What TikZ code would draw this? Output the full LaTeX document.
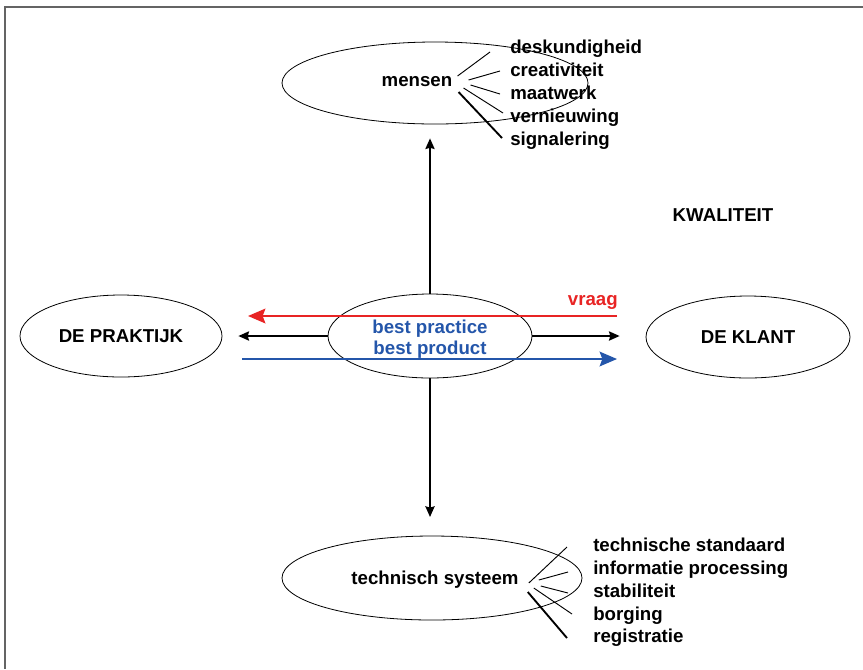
\documentclass[tikz,border=0pt]{standalone}
\usepackage{fontspec}
\setmainfont{Liberation Sans}
\usetikzlibrary{arrows.meta,shapes.geometric}
\definecolor{vraagred}{RGB}{232,36,36}
\definecolor{productblue}{RGB}{36,86,170}
\definecolor{framegray}{RGB}{100,100,100}

\begin{document}
\begin{tikzpicture}[x=0.75pt,y=-0.75pt,
    every node/.style={font=\bfseries\fontsize{14}{16}\selectfont},
    blob/.style={ellipse,draw,line width=0.6pt,inner sep=0pt},
    item/.style={anchor=west,inner sep=0pt,text height=10pt,text depth=2pt},
    fan/.style={line width=0.7pt},
    fanthick/.style={line width=1.4pt},
    pijl/.style={line width=1pt,-{Stealth[length=8pt,width=7pt,inset=1pt]}},
    stroom/.style={line width=1.5pt,-{Stealth[length=13pt,width=11pt,inset=2pt]}}]

        \useasboundingbox (0,0) rectangle (863,669);
        \draw[framegray,line width=1.5pt] (863,7) -- (5,7) -- (5,669);

        \begin{scope}[every node/.style={blob}]
          \node[minimum width=229.5pt,minimum height=61.5pt] (1) at (435,83)  {};
          \node[minimum width=153pt,minimum height=63pt]     (2) at (430,336) {};
          \node[minimum width=151.5pt,minimum height=61.5pt] (3) at (121,336) {};
          \node[minimum width=153pt,minimum height=61.5pt]   (4) at (748,337) {};
          \node[minimum width=225pt,minimum height=63pt]     (5) at (432,578) {};
        \end{scope}

        \begin{scope}[every node/.style={font=\bfseries\fontsize{14}{16}\selectfont,inner sep=0pt}]
          \node (mensen)   at (417,82)  {mensen};
          \node (techsys)  at (435,580) {technisch systeem};
          \node (praktijk) at (121,336) {DE PRAKTIJK};
          \node (klant)    at (748,337) {DE KLANT};
          \node (kwaliteit) at (723,215) {KWALITEIT};
          \node[text=productblue,align=center] (best) at (430,339)
            {best practice\\best product};
          \node[text=vraagred,anchor=east] (vraag) at (618,302) {vraag};

          \node[item] (m1) at (510,48)  {deskundigheid};
          \node[item] (m2) at (510,71)  {creativiteit};
          \node[item] (m3) at (510,94)  {maatwerk};
          \node[item] (m4) at (510,117) {vernieuwing};
          \node[item] (m5) at (510,140) {signalering};

          \node[item] (t1) at (593,546) {technische standaard};
          \node[item] (t2) at (593,569) {informatie processing};
          \node[item] (t3) at (593,592) {stabiliteit};
          \node[item] (t4) at (593,615) {borging};
          \node[item] (t5) at (593,637) {registratie};
        \end{scope}

        \coordinate (vraagvan) at (617,316);
        \coordinate (vraagnaar) at (248,316);
        \coordinate (prodvan) at (242,359);
        \coordinate (prodnaar) at (617,359);

        \draw[fan] ([shift={(5,-6)}]mensen.east) -- ([shift={(-20,4)}]m1.west);
        \draw[fan] ([shift={(16,-2)}]mensen.east) -- ([shift={(-10,0)}]m2.west);
        \draw[fan] ([shift={(18,3)}]mensen.east) -- ([shift={(-10,0)}]m3.west);
        \draw[fan] ([shift={(11,6)}]mensen.east) -- ([shift={(-7,-4)}]m4.west);
        \draw[fanthick] ([shift={(6,10)}]mensen.east) -- ([shift={(-8,-2)}]m5.west);

        \draw[fan] ([shift={(10,3)}]techsys.east) -- ([shift={(-26,1)}]t1.west);
        \draw[fan] ([shift={(20,0)}]techsys.east) -- ([shift={(-25,3)}]t2.west);
        \draw[fan] ([shift={(22,6)}]techsys.east) -- ([shift={(-25,1)}]t3.west);
        \draw[fan] ([shift={(15,8)}]techsys.east) -- ([shift={(-21,-1)}]t4.west);
        \draw[fanthick] ([shift={(9,12)}]techsys.east) -- ([shift={(-26,1)}]t5.west);

        \draw[pijl,shorten >=10.5pt] (2.north) -- (2.north |- 1.south);
        \draw[pijl,shorten >=14pt] (2.south) -- (2.south |- 5.north);
        \draw[pijl,shorten >=12pt] (2.west) -- (3.east);
        \draw[pijl,shorten >=19.5pt] (2.east) -- (2.east -| 4.west);

        \draw[stroom,vraagred] (vraagvan) -- (vraagnaar);
        \draw[stroom,productblue] (prodvan) -- (prodnaar);

      \end{tikzpicture}
\end{document}
